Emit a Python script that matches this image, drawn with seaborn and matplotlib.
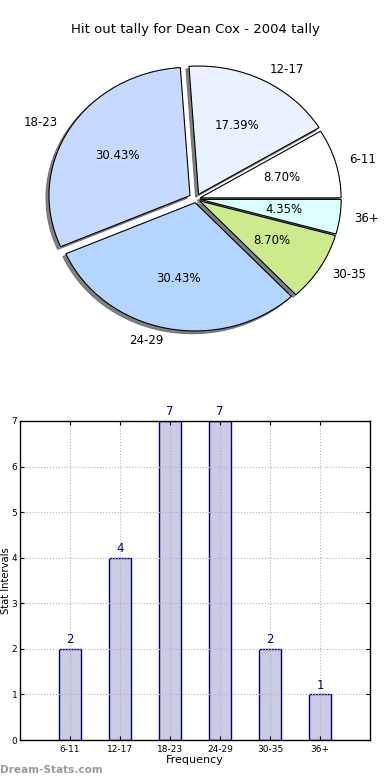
import matplotlib
matplotlib.use('Agg')
import matplotlib.pyplot as plt
import seaborn as sns

# data
categories = ['6-11', '12-17', '18-23', '24-29', '30-35', '36+']
counts = [2, 4, 7, 7, 2, 1]
pie_colors = ['#FFFFFF', '#EBF2FF', '#C6DAFF', '#B4D5FF', '#CDEA8C', '#DAFFFF']
explode = [0.03, 0.04, 0.05, 0.03, 0.03, 0.03]

sns.set_style('white')
plt.rcParams['font.family'] = ['DejaVu Sans']
plt.rcParams['text.color'] = 'black'
plt.rcParams['axes.labelcolor'] = 'black'
plt.rcParams['xtick.color'] = 'black'
plt.rcParams['ytick.color'] = 'black'

fig = plt.figure(figsize=(3.9, 7.8), dpi=100)

# pie chart (top)
ax1 = fig.add_axes([12.7 / 390, 1 - 365.7 / 780, 366.6 / 390, 333.6 / 780])
ax1.pie(counts, labels=categories, colors=pie_colors, explode=explode,
        autopct='%1.2f%%',
        shadow={'ox': -0.015, 'oy': -0.015, 'facecolor': '0.5',
                'edgecolor': '0.45', 'alpha': 1},
        wedgeprops={'edgecolor': 'black', 'linewidth': 0.8},
        textprops={'fontsize': 8.5, 'color': 'black'})
ax1.set_aspect('auto')
ax1.set_xlim(-1.3, 1.3)
ax1.set_ylim(-1.3, 1.3)
ax1.axis('off')
fig.text(0.5, 1 - 30 / 780, 'Hit out tally for Dean Cox - 2004 tally',
         ha='center', va='center', fontsize=9.5)

# bar chart (bottom)
ax2 = fig.add_axes([20 / 390, 40 / 780, 350 / 390, 319 / 780])
sns.barplot(x=categories, y=counts, color='#CBCBE3', saturation=1, width=0.45,
            edgecolor='navy', linewidth=1, ax=ax2)
ax2.set_xlim(-1, 6)
ax2.set_ylim(0, 7)
ax2.set_yticks(range(8))
ax2.grid(True, linestyle=':', color='0.7', linewidth=0.8)
ax2.set_axisbelow(False)
for c in ax2.containers:
    ax2.bar_label(c, padding=2, color='navy', fontsize=8.5)
ax2.tick_params(direction='in', top=True, right=True, bottom=True, left=True,
                labelsize=6.5, length=3, color='black')
ax2.tick_params(axis='y', pad=2)
for s in ax2.spines.values():
    s.set_color('black')
    s.set_linewidth(1)
    s.set_zorder(5)
ax2.set_xlabel('Frequency', fontsize=8, labelpad=1)
ax2.set_ylabel('')

fig.text(5.9 / 390, 0.255, 'Stat Intervals', rotation=90, ha='center', va='center', fontsize=7.2)
fig.text(0, 10 / 780, 'Dream-Stats.com', color='#999999', fontsize=7.6,
         fontweight='bold', va='center', ha='left')

fig.savefig('out.png', dpi=100, facecolor='white')
